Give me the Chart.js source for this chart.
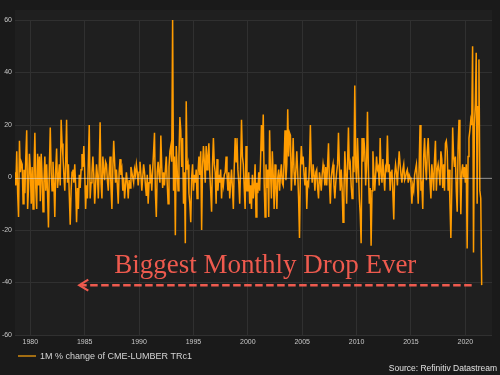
<!DOCTYPE html>
<html>
<head>
<meta charset="utf-8">
<script src="https://cdn.jsdelivr.net/npm/chart.js@4.4.1/dist/chart.umd.min.js"></script>
<style>
  html, body { margin: 0; padding: 0; background: #1a1a1a; }
  #wrap { width: 500px; height: 375px; }
</style>
</head>
<body>
<div id="wrap"><canvas id="lumberChart" width="500" height="375"></canvas></div>
<script>
// 1M % change of CME lumber, monthly, Aug 1978 .. Jul 2021
const startYear = 1978
const startMonth = 8

const chg1970s = [
  2, -3, 10, -6, -15,
  14, 2, 6, 5, -10, 3, -6, 8, 18, -12, -4, 9
]
const chg1980s = [
  3, -10, 4, -12, 2, 17, -4, -12, 9, -3, 8, -9,
  9, 0, -13, -2, 8, -5, 5, -6, -19, 4, 19, 2,
  -5, 6, -2, -15, 3, 11, -4, 0, 5, -3, 22, 13,
  8, 1, -5, 6, 22, -2, 5, -7, -18, -5, 2, 3,
  -2, 5, -3, -17, -4, -12, 1, -4, 3, 9, 4, 12,
  2, -12, -3, -8, 6, 20, -8, -2, 2, 8, 1, -10,
  -3, 5, 1, -8, 4, 21, -2, -8, 8, 3, -1, 6,
  5, -1, -5, 2, 8, -4, -12, 3, 14, 6, -2, 3,
  -3, -10, 2, 7, 1, 3, -5, 0, -8, -3, 2, -2,
  -8, -1, -4, 4, 2, 0, -2, 3, 1, 5, 2, -3
]
const chg1990s = [
  2, 6, 1, -5, 0, 5, 2, -3, -7, 1, -10, -2,
  5, 1, -5, 3, 10, 17, -6, -15, 2, 6, 1, -2,
  16, 4, -4, 2, -3, 3, 8, -2, -10, 4, 10, 12,
  6, 60, -5, 8, -22, 12, 3, -5, 8, 23, 18, 4,
  15, -10, 2, -25, 29, 3, 5, -6, -10, -17, 0, 5,
  -5, 1, -2, 3, -8, 2, 8, 1, 10, -20, 4, 12,
  6, -2, 12, 3, 8, 13, 2, -5, -13, 5, 15, 5,
  2, -10, 7, -5, 1, -2, 3, -8, 0, -3, 1, 2,
  8, 1, -5, 2, -8, -2, 3, -4, -12, 4, 15, 6,
  15, 3, -2, -10, 4, 22, 8, 5, -4, -12, 12, -5
]
const chg2000s = [
  -5, 2, -10, -3, -12, 1, -8, -3, 5, -15, -2, -6,
  2, -5, 6, 20, 10, 24, -2, -15, 5, -4, 3, -15,
  18, 2, -8, 10, 1, -12, 5, -3, -12, 0, 3, -5,
  1, 5, -2, -3, 6, 18, -1, 5, 26, 8, 17, 16,
  -5, 4, 15, 2, -3, 3, 10, 2, -8, -23, 3, 12,
  5, 8, 1, -3, 4, -12, -2, -3, 5, 20, 3, -2,
  5, 1, -5, 2, 3, -4, -8, 2, -1, -5, 1, 5,
  2, -3, 4, -3, 5, 13, -2, -10, 0, 3, 5, -3,
  -8, -2, 2, 5, 17, 4, -5, 3, -4, -17, -6, 10,
  2, -10, 5, 19, 3, 5, -3, -8, 8, 2, 35, 5
]
const chg2010s = [
  -2, 15, 4, -8, -14, -25, 15, 6, 15, 10, -3, 5,
  25, 3, -10, -4, -26, -5, 10, 2, -5, 1, 8, 3,
  4, -3, 15, 2, -2, 7, 1, -5, 4, 3, 16, 2,
  5, -5, 2, 3, -6, -16, 1, 5, 2, -3, 4, 10,
  5, 1, -2, 3, 5, -1, 0, 2, 3, -2, 1, 0,
  -2, -10, -3, -5, 1, 3, 5, -2, -10, 4, 20, -5,
  -3, -12, 8, 15, 5, -1, 10, 15, 6, -2, -8, 5,
  1, -5, 7, 14, -5, 3, 5, 2, -3, 10, 7, -4,
  5, -5, 13, 14, 10, -5, 3, -10, -23, -5, 19, 8,
  4, 8, -5, -13, 12, 22, 5, -14, 2, 5, 0, 4
]
const chg2020s = [
  -2, 5, -27, 8, 15, 18, 22, 20, 50, -28.6, 20, 28,
  47.5, -10, 27, 45, -5, -8, -41
]

const yTicks = [-60, -40, -20, 0, 20, 40, 60]
const seriesLabel = '1M % change of CME-LUMBER TRc1'
const sourceLabel = 'Source: Refinitiv Datastream'
const noteLabel = 'Biggest Monthly Drop Ever'

const monthly = [].concat(chg1970s, chg1980s, chg1990s, chg2000s, chg2010s, chg2020s)
const points = monthly.map((v, i) => ({ x: startYear + (startMonth - 1 + i) / 12, y: v }))

const lineColor = '#ff9c00'
const noteColor = '#ee5a4e'

// backgrounds, zero line, arrow note, legend and source line
const decor = {
  id: 'decor',
  beforeDraw(chart) {
    const { ctx, chartArea: a } = chart
    ctx.save()
    ctx.fillStyle = '#1a1a1a'
    ctx.fillRect(0, 0, chart.width, chart.height)
    ctx.fillStyle = '#1f1f1f'
    ctx.fillRect(a.left, a.top - 10, a.right - a.left, a.bottom - a.top + 10)
    ctx.restore()
  },
  afterDatasetsDraw(chart) {
    const { ctx, chartArea: a, scales: { x, y } } = chart
    ctx.save()
    // zero line on top of the series
    const y0 = Math.round(y.getPixelForValue(0)) + 0.5
    ctx.strokeStyle = 'rgba(225,225,225,0.5)'
    ctx.lineWidth = 1
    ctx.beginPath()
    ctx.moveTo(a.left, y0)
    ctx.lineTo(a.right, y0)
    ctx.stroke()

    // arrow at the lowest value
    const low = Math.min(...monthly)
    const lowPt = points[monthly.indexOf(low)]
    const ay = y.getPixelForValue(low)
    const xRight = x.getPixelForValue(lowPt.x) - 10
    const xLeft = x.getPixelForValue(1984.5)
    ctx.strokeStyle = noteColor
    ctx.lineWidth = 2.5
    ctx.setLineDash([7.5, 3.5])
    ctx.beginPath()
    ctx.moveTo(xRight, ay)
    ctx.lineTo(xLeft + 2, ay)
    ctx.stroke()
    ctx.setLineDash([])
    ctx.lineWidth = 2.2
    ctx.beginPath()
    ctx.moveTo(xLeft + 9, ay - 5.5)
    ctx.lineTo(xLeft, ay)
    ctx.lineTo(xLeft + 9, ay + 5.5)
    ctx.stroke()

    ctx.fillStyle = noteColor
    ctx.font = '27px "Liberation Serif", "DejaVu Serif", serif'
    ctx.textAlign = 'center'
    ctx.textBaseline = 'alphabetic'
    ctx.fillText(noteLabel, x.getPixelForValue(2001.6), ay - 12)
    ctx.restore()
  },
  afterDraw(chart) {
    const { ctx } = chart
    ctx.save()
    // legend
    ctx.strokeStyle = '#d08a10'
    ctx.lineWidth = 1.5
    ctx.beginPath()
    ctx.moveTo(18, 356)
    ctx.lineTo(36, 356)
    ctx.stroke()
    ctx.fillStyle = '#d4d4d4'
    ctx.font = '9px "Liberation Sans", Arial, sans-serif'
    ctx.textBaseline = 'middle'
    ctx.textAlign = 'left'
    ctx.fillText(seriesLabel, 40, 356.5)
    // source
    ctx.font = '8.5px "Liberation Sans", Arial, sans-serif'
    ctx.textAlign = 'right'
    ctx.fillStyle = '#e0e0e0'
    ctx.fillText(sourceLabel, 497, 368.5)
    ctx.restore()
  }
}

new Chart('lumberChart', {
  type: 'line',
  data: {
    datasets: [{
      label: seriesLabel,
      data: points,
      borderColor: lineColor,
      backgroundColor: lineColor,
      borderWidth: 1.5,
      pointRadius: 0,
      tension: 0,
      fill: false,
    }]
  },
  options: {
    responsive: false,
    animation: false,
    events: [],
    layout: { padding: { top: 20, right: 8, left: 0, bottom: 28 } },
    plugins: {
      legend: { display: false },
      tooltip: { enabled: false },
    },
    scales: {
      x: {
        type: 'linear',
        min: 1978.59,
        max: 2022.45,
        border: { display: false },
        grid: { color: '#303030', lineWidth: 1, drawTicks: false },
        ticks: {
          stepSize: 5,
          includeBounds: false,
          autoSkip: false,
          maxRotation: 0,
          padding: 3,
          color: '#c8c8c8',
          font: { family: '"Liberation Sans", Arial, sans-serif', size: 7 },
          callback: v => String(v),
        },
        afterFit: s => { s.height = 12; s.paddingLeft = 0; s.paddingRight = 0 },
      },
      y: {
        min: yTicks[0],
        max: yTicks[yTicks.length - 1],
        border: { display: false },
        grid: { color: '#303030', lineWidth: 1, drawTicks: false },
        afterBuildTicks: s => { s.ticks = yTicks.map(v => ({ value: v })) },
        ticks: {
          padding: 3,
          color: '#c8c8c8',
          font: { family: '"Liberation Sans", Arial, sans-serif', size: 7 },
          callback: v => String(v),
        },
        afterFit: s => { s.width = 15; s.paddingTop = 0; s.paddingBottom = 0 },
      },
    },
  },
  plugins: [decor],
})
</script>
</body>
</html>
